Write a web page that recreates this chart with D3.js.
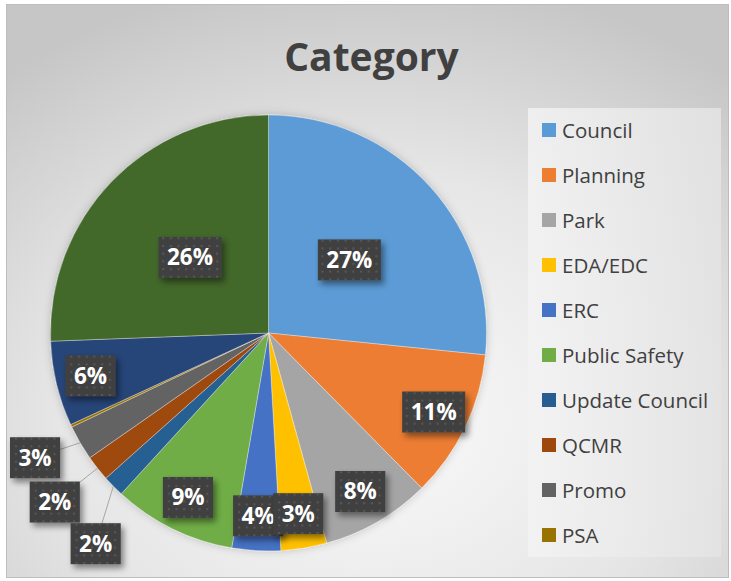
<!DOCTYPE html>
<head>
<meta charset="utf-8">
<style>
  body { margin: 0; background: #fff; }
  svg { display: block; }
  text { font-family: "Open Sans", "Noto Sans", sans-serif; }
</style>
</head>
<body>
<script src="https://d3js.org/d3.v7.min.js"></script>
<script>
(function() {
	// chart data (percent of total)
	var categories = ["Council", "Planning", "Park", "EDA/EDC", "ERC", "Public Safety",
		"Update Council", "QCMR", "Promo", "PSA", "Other A", "Other B"];
	var values = [26.6, 11.0, 8.1, 3.4, 3.6, 9.1, 1.6, 1.9, 2.6, 0.2, 6.3, 25.6];
	var colors = ["#5B9BD5", "#ED7D31", "#A5A5A5", "#FFC000", "#4472C4", "#70AD47",
		"#255E91", "#9E480E", "#636363", "#997300", "#264478", "#43682B"];
	var title = "Category";

	var
		W = 731,
		H = 581,
		cx = 268.5,
		cy = 333,
		r = 218,
		boxH = 41,
		legend = {x: 528, y: 108, w: 193, h: 449, step: 45};

	var total = d3.sum(values);

	var svg = d3.select("body").append("svg")
		.attr("width", W)
		.attr("height", H);

	var defs = svg.append("defs");

	var bg = defs.append("radialGradient")
		.attr("id", "bg")
		.attr("cx", "50%").attr("cy", "72%").attr("r", "78%");
	bg.append("stop").attr("offset", "0%").attr("stop-color", "#fbfbfb");
	bg.append("stop").attr("offset", "55%").attr("stop-color", "#e6e6e6");
	bg.append("stop").attr("offset", "100%").attr("stop-color", "#c6c6c6");

	var lg = defs.append("linearGradient")
		.attr("id", "lg").attr("x1", "0").attr("x2", "1");
	lg.append("stop").attr("offset", "0%").attr("stop-color", "#f3f3f3");
	lg.append("stop").attr("offset", "100%").attr("stop-color", "#e4e4e4");

	// dotted dark fill of the data labels
	var pat = defs.append("pattern")
		.attr("id", "dots")
		.attr("width", 7.7).attr("height", 7.7)
		.attr("patternUnits", "userSpaceOnUse");
	pat.append("rect").attr("width", 7.7).attr("height", 7.7).attr("fill", "#404040");
	pat.append("rect").attr("x", 3).attr("y", 3).attr("width", 2).attr("height", 2).attr("fill", "#585858");

	var sh = defs.append("filter").attr("id", "shadow")
		.attr("x", "-30%").attr("y", "-30%").attr("width", "170%").attr("height", "170%");
	sh.append("feDropShadow")
		.attr("dx", 3).attr("dy", 4).attr("stdDeviation", 3)
		.attr("flood-color", "#000").attr("flood-opacity", 0.45);

	var glow = defs.append("filter").attr("id", "glow")
		.attr("x", "-10%").attr("y", "-10%").attr("width", "120%").attr("height", "120%");
	glow.append("feDropShadow")
		.attr("dx", 0).attr("dy", 0).attr("stdDeviation", 4)
		.attr("flood-color", "#000").attr("flood-opacity", 0.2);

	// chart area
	svg.append("rect")
		.attr("x", 6.5).attr("y", 4.5)
		.attr("width", W - 9).attr("height", H - 8)
		.attr("fill", "url(#bg)")
		.attr("stroke", "#bdbdbd");

	svg.append("text")
		.attr("x", 371.5).attr("y", 71)
		.attr("text-anchor", "middle")
		.attr("font-size", 39)
		.attr("font-weight", 700)
		.attr("fill", "#404040")
		.text(title);

	// pie
	var pie = d3.pie().sort(null).value(function(d) { return d; });
	var arcs = pie(values);

	var arc = d3.arc().innerRadius(0).outerRadius(r);

	var vis = svg.append("g")
		.attr("transform", "translate(" + cx + "," + cy + ")");

	vis.append("g")
		.attr("filter", "url(#glow)")
		.selectAll("path")
		.data(arcs)
		.enter().append("path")
		.attr("d", arc)
		.attr("fill", function(d, i) { return colors[i]; })
		.attr("stroke", "rgba(255,255,255,0.45)")
		.attr("stroke-width", 0.75);

	function share(d) { return d.value / total; }
	function isOutside(d) { return share(d) < 0.03; }
	function midAngle(d) { return (d.startAngle + d.endAngle) / 2; }
	function pointAt(a, rad) {
		return [rad * Math.sin(a), -rad * Math.cos(a)];
	}

	var labelled = arcs.filter(function(d) { return Math.round(share(d) * 100) > 0; });

	var lineG = vis.append("g");
	var labG = vis.append("g");

	var labels = labG.selectAll("g")
		.data(labelled.slice().reverse())
		.enter().append("g");

	var boxes = labels.append("rect");

	var texts = labels.append("text")
		.attr("text-anchor", "middle")
		.attr("dy", "0.35em")
		.attr("font-size", 22.5)
		.attr("font-weight", 700)
		.attr("fill", "#fff")
		.text(function(d) { return Math.round(share(d) * 100) + "%"; });

	texts.each(function(d) { d.bw = this.getComputedTextLength() + 17; });

	// big slices near the middle, mid slices near the rim;
	// small ones outside, a little below their slice, turned on until they clear each other
	var placed = [];
	function overlaps(p, w) {
		return placed.some(function(q) {
			return Math.abs(p[0] - q.p[0]) < (w + q.w) / 2 && Math.abs(p[1] - q.p[1]) < boxH;
		});
	}
	labelled.forEach(function(d) {
		var s = share(d);
		if (!isOutside(d)) {
			d.pos = pointAt(midAngle(d), (s >= 0.2 ? 0.5 : 0.84) * r);
			return;
		}
		var a = midAngle(d) - 6 * Math.PI / 180;
		var p = pointAt(a, 1.25 * r);
		while (overlaps(p, d.bw)) {
			a += Math.PI / 180;
			p = pointAt(a, 1.25 * r);
		}
		// keep the box inside the chart frame
		p[0] = Math.max(p[0], 10 - cx + d.bw / 2);
		placed.push({p: p, w: d.bw});
		d.pos = p;
	});

	labels.attr("transform", function(d) {
		return "translate(" + d.pos[0] + "," + d.pos[1] + ")";
	});

	boxes
		.attr("x", function(d) { return -d.bw / 2; })
		.attr("y", -boxH / 2)
		.attr("width", function(d) { return d.bw; })
		.attr("height", boxH)
		.attr("fill", "url(#dots)")
		.attr("filter", "url(#shadow)");

	lineG.selectAll("line")
		.data(labelled.filter(isOutside))
		.enter().append("line")
		.attr("x1", function(d) { return pointAt(midAngle(d), r)[0]; })
		.attr("y1", function(d) { return pointAt(midAngle(d), r)[1]; })
		.attr("x2", function(d) { return d.pos[0]; })
		.attr("y2", function(d) { return d.pos[1]; })
		.attr("stroke", "#a6a6a6")
		.attr("stroke-width", 1);

	// legend: only the entries that fit in its box are shown
	var leg = svg.append("g");

	leg.append("rect")
		.attr("x", legend.x).attr("y", legend.y)
		.attr("width", legend.w).attr("height", legend.h)
		.attr("fill", "url(#lg)")
		.attr("opacity", 0.85);

	var shown = categories.filter(function(d, i) {
		return 22 + i * legend.step + 14 < legend.h;
	});

	var items = leg.selectAll("g.item")
		.data(shown)
		.enter().append("g")
		.attr("class", "item")
		.attr("transform", function(d, i) {
			return "translate(" + (legend.x + 14) + "," + (legend.y + 22 + i * legend.step) + ")";
		});

	items.append("rect")
		.attr("x", 0).attr("y", -7)
		.attr("width", 14).attr("height", 14)
		.attr("fill", function(d, i) { return colors[i]; });

	items.append("text")
		.attr("x", 20)
		.attr("y", 7.5)
		.attr("font-size", 20.5)
		.attr("fill", "#404040")
		.text(function(d) { return d; });

})();
</script>
</body>
